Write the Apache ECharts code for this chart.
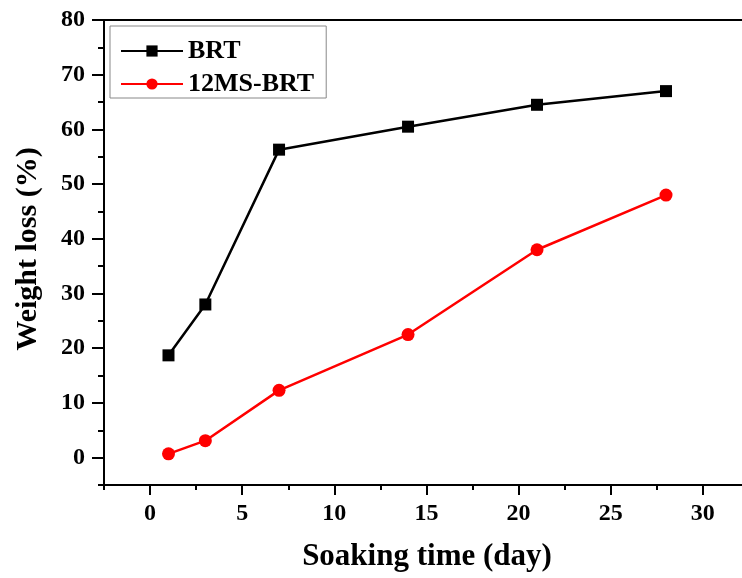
<!DOCTYPE html>
<html>
<head>
<meta charset="utf-8">
<script src="https://cdn.jsdelivr.net/npm/echarts@6/dist/echarts.min.js"></script>
<style>html,body{margin:0;padding:0;background:#fff;}#c{width:742px;height:578px;}</style>
</head>
<body>
<div id="c"></div>
<script>
const days = [1, 3, 7, 14, 21, 28];
const brt = [18.7, 28.0, 56.3, 60.5, 64.5, 67.0];
const ms12 = [0.7, 3.1, 12.3, 22.5, 38.0, 48.0];
const seriesNames = ['BRT', '12MS-BRT'];
const xTicks = [0, 5, 10, 15, 20, 25, 30];
const yTicks = [0, 10, 20, 30, 40, 50, 60, 70, 80];
const xTitle = 'Soaking time (day)';
const yTitle = 'Weight loss (%)';

const font = 'Liberation Serif, Times New Roman, serif';
const chart = echarts.init(document.getElementById('c'));
const pair = (xs, ys) => xs.map((x, i) => [x, ys[i]]);
const lbl = { fontFamily: font, fontWeight: 'bold', fontSize: 24, color: '#000' };
chart.setOption({
  animation: false,
  backgroundColor: '#fff',
  grid: { left: 104, right: -53, top: 20, bottom: 93, outerBoundsMode: 'none', containLabel: false,
    show: true, borderColor: '#000', borderWidth: 2, backgroundColor: 'transparent' },
  legend: {
    orient: 'vertical', left: 110, top: 26,
    padding: [12, 12, 1, 10],
    itemWidth: 62, itemHeight: 14, itemGap: 7,
    borderColor: '#888', borderWidth: 1,
    textStyle: { fontFamily: font, fontWeight: 'bold', fontSize: 26, color: '#000' },
    data: seriesNames
  },
  xAxis: [{
    type: 'value', min: -2.5, max: 35, interval: 2.5, position: 'bottom',
    axisLine: { show: true, onZero: false, lineStyle: { color: '#000', width: 2 } },
    axisTick: { show: true, length: 5, lineStyle: { color: '#000', width: 2 } },
    splitLine: { show: false },
    axisLabel: Object.assign({ margin: 17, customValues: xTicks }, lbl)
  }, {
    type: 'value', min: -2.5, max: 35, position: 'bottom',
    axisLine: { show: false, onZero: false },
    axisTick: { show: true, length: 10, customValues: xTicks, lineStyle: { color: '#000', width: 2 } },
    splitLine: { show: false },
    axisLabel: { show: false }
  }],
  yAxis: [{
    type: 'value', min: -5, max: 80, interval: 5, position: 'left',
    axisLine: { show: true, onZero: false, lineStyle: { color: '#000', width: 2 } },
    axisTick: { show: true, length: 6, lineStyle: { color: '#000', width: 2 } },
    splitLine: { show: false },
    axisLabel: Object.assign({ margin: 19, customValues: yTicks }, lbl)
  }, {
    type: 'value', min: -5, max: 80, position: 'left',
    axisLine: { show: false, onZero: false },
    axisTick: { show: true, length: 12, customValues: yTicks, lineStyle: { color: '#000', width: 2 } },
    splitLine: { show: false },
    axisLabel: { show: false }
  }],
  graphic: [
    { type: 'text', x: 427, y: 557, style: { text: xTitle, align: 'center', verticalAlign: 'middle', fontFamily: font, fontWeight: 'bold', fontSize: 31, fill: '#000' } },
    { type: 'text', x: 28, y: 249, rotation: Math.PI / 2, style: { text: yTitle, align: 'center', verticalAlign: 'middle', fontFamily: font, fontWeight: 'bold', fontSize: 30, fill: '#000' } }
  ],
  series: [
    { name: seriesNames[0], type: 'line', xAxisIndex: 0, yAxisIndex: 0, data: pair(days, brt), symbol: 'rect', symbolSize: 12,
      lineStyle: { color: '#000', width: 2.5 }, itemStyle: { color: '#000' } },
    { name: seriesNames[1], type: 'line', xAxisIndex: 0, yAxisIndex: 0, data: pair(days, ms12), symbol: 'circle', symbolSize: 13,
      lineStyle: { color: '#ff0000', width: 2.5 }, itemStyle: { color: '#ff0000' } }
  ]
});
</script>
</body>
</html>
